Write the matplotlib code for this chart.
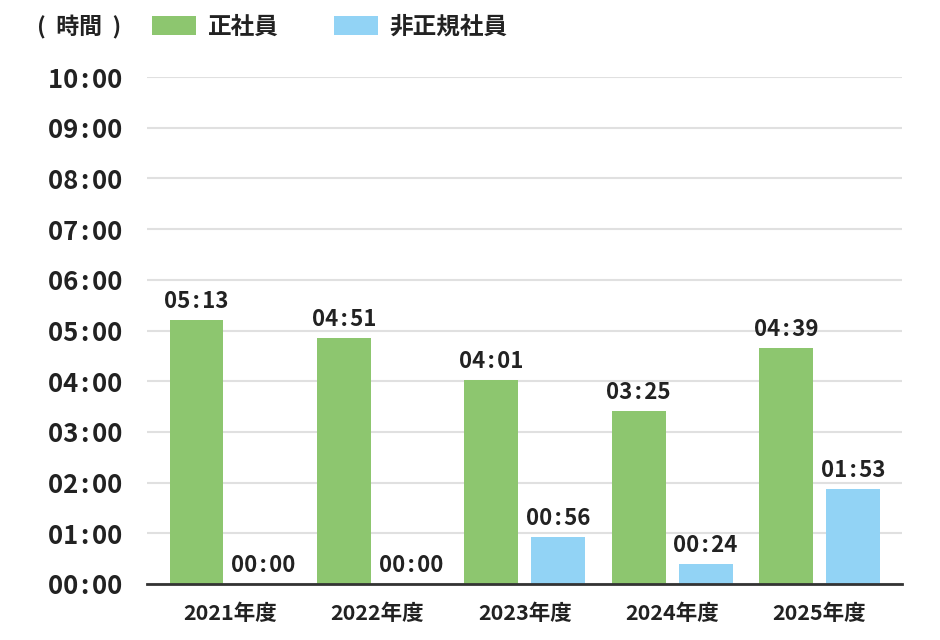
import numpy as np
import matplotlib
matplotlib.use("Agg")
import matplotlib.pyplot as plt

plt.rcParams['font.family'] = ['Noto Sans CJK JP', 'DejaVu Sans']

years = ['2021年度', '2022年度', '2023年度', '2024年度', '2025年度']
regular = ['05:13', '04:51', '04:01', '03:25', '04:39']
non_regular = ['00:00', '00:00', '00:56', '00:24', '01:53']
series_names = ['正社員', '非正規社員']
colors = ['#8dc66f', '#92d3f5']
text_color = '#222222'


def to_hours(s):
    h, m = s.split(':')
    return int(h) + int(m) / 60


def spaced(s):
    # the reference puts a little air around the colon
    return s.replace(':', '\u200a:\u200a')


fig = plt.figure(figsize=(9.4, 6.4), dpi=100)
ax = fig.add_axes([147 / 940, 56 / 640, 755 / 940, 507 / 640])

x = np.arange(len(years))
width = 0.366
offset = 0.227

handles = []
for i, (vals, name) in enumerate(zip([regular, non_regular], series_names)):
    hours = [to_hours(v) for v in vals]
    pos = x + (-offset if i == 0 else offset)
    bars = ax.bar(pos, hours, width, color=colors[i], label=name, zorder=3)
    handles.append(bars)
    for xp, h, lab in zip(pos, hours, vals):
        ax.annotate(spaced(lab), (xp, h), xytext=(0, 5), textcoords='offset points',
                    ha='center', va='bottom', fontsize=16, fontweight='bold',
                    color=text_color, zorder=4)

ax.set_xlim(-0.563, 4.56)
ax.set_ylim(0, 10)
ax.set_yticks(range(0, 11))
ax.set_yticklabels([spaced(f'{h:02d}:00') for h in range(0, 11)], fontsize=18.5,
                   fontweight='bold', color=text_color)
ax.set_xticks(x)
ax.set_xticklabels(years, fontsize=15.5, fontweight='bold', color=text_color)
ax.tick_params(axis='both', length=0)
ax.tick_params(axis='y', pad=18)
ax.tick_params(axis='x', pad=14)

ax.grid(axis='y', color='#e0e0e0', linewidth=1.5, zorder=0)
for side in ['top', 'right', 'left']:
    ax.spines[side].set_visible(False)
ax.spines['bottom'].set_color('#333333')
ax.spines['bottom'].set_linewidth(2)
ax.spines['bottom'].set_zorder(5)

fig.text(37 / 940, 1 - 27 / 640, '(  時間  )', fontsize=16.5, fontweight='bold',
         color=text_color, va='center', ha='left')
fig.legend(handles=handles, labels=series_names, loc='center left',
           bbox_to_anchor=(152 / 940, 1 - 27 / 640), ncol=2, frameon=False,
           prop={'weight': 'bold', 'size': 17}, borderpad=0, borderaxespad=0,
           handlelength=1.85, handleheight=0.85, handletextpad=0.5,
           columnspacing=2.35, labelcolor=text_color)

fig.savefig('out.png', dpi=100)
